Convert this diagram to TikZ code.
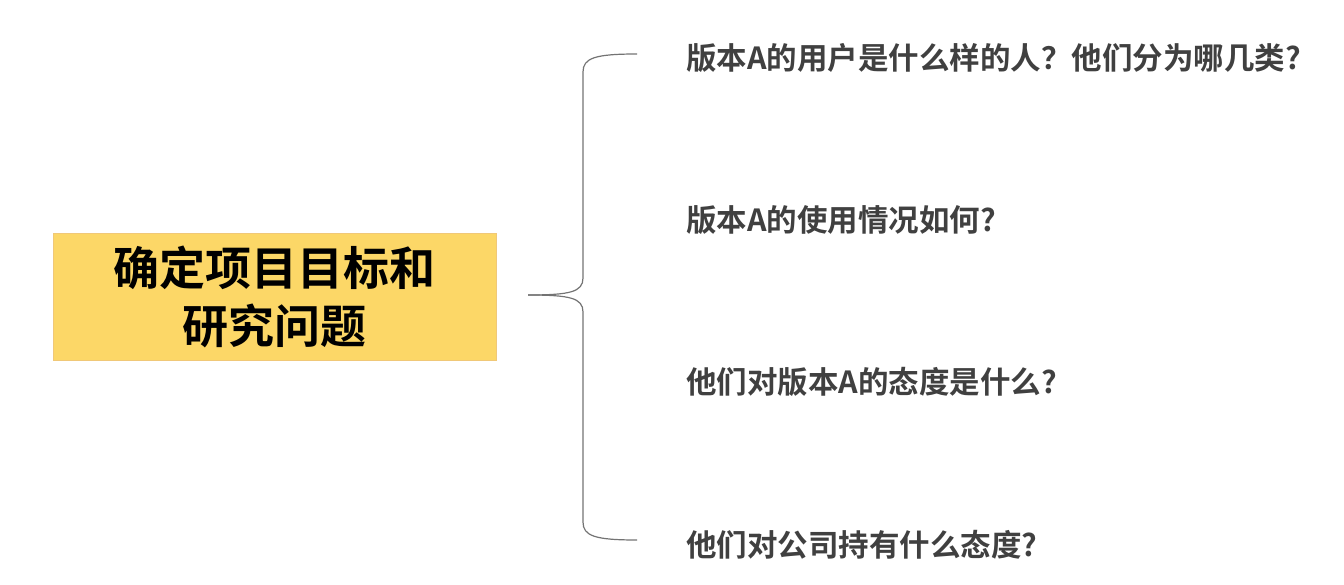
\documentclass[tikz,border=0pt]{standalone}
\usepackage{fontspec}
\setmainfont{Noto Sans CJK SC}[BoldFont={Noto Sans CJK SC Bold}]
\begin{document}
\begin{tikzpicture}[x=1pt,y=-1pt,
  q/.style={anchor=west,font=\bfseries\fontsize{30.5}{36}\selectfont,text=black!75,inner sep=0pt}]
\useasboundingbox (0,0) rectangle (1344,585);
\node[fill={rgb,255:red,252;green,215;blue,103},draw={rgb,255:red,240;green,200;blue,120},minimum width=443,minimum height=127,align=center,font=\bfseries\fontsize{46}{58}\selectfont] (main) at (274.5,296.5) {确定项目目标和\\研究问题};
\coordinate (tip) at (528,295);
\coordinate (top) at (637,54);
\coordinate (bot) at (637,540);
\draw[black!55,line width=1.2] (top) .. controls (595,54) and (583,58) .. (583,72) -- (583,278) .. controls (583,292) and (570,295) .. (tip);
\draw[black!55,line width=1.2] (tip) .. controls (570,295) and (583,298) .. (583,312) -- (583,522) .. controls (583,536) and (595,540) .. (bot);
\node[q] (a) at (686,58) {版本A的用户是什么样的人？他们分为哪几类?};
\node[q] (b) at (686,220) {版本A的使用情况如何?};
\node[q] (c) at (686,382) {他们对版本A的态度是什么?};
\node[q] (d) at (686,545) {他们对公司持有什么态度?};
\end{tikzpicture}
\end{document}
